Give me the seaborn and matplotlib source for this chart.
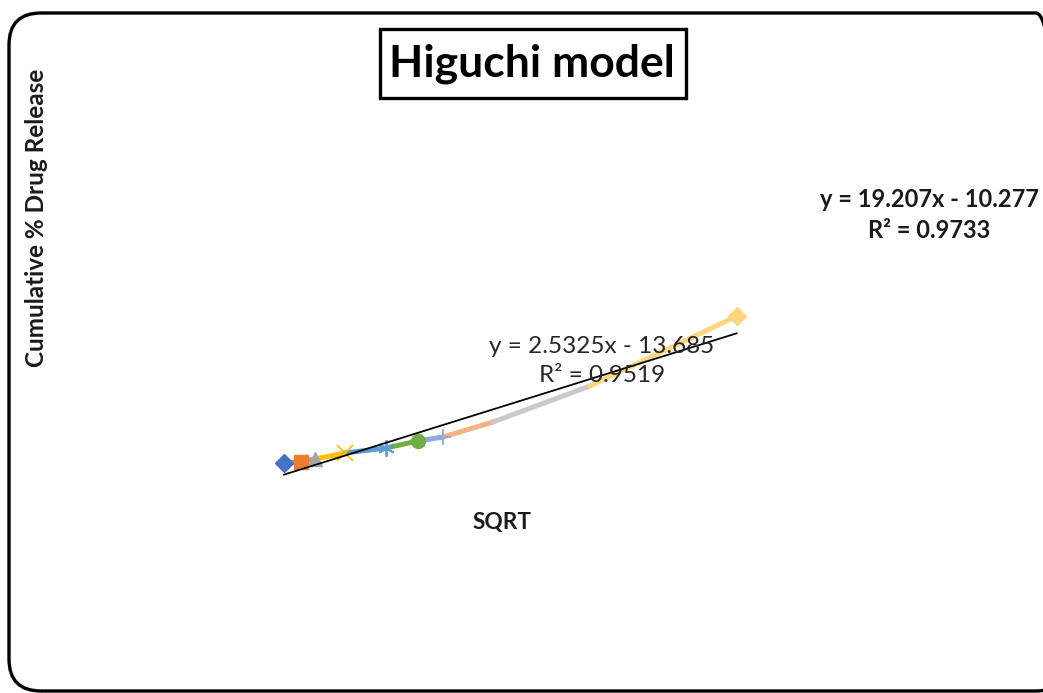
import numpy as np
import pandas as pd
import matplotlib
matplotlib.use("Agg")
import matplotlib.pyplot as plt
import seaborn as sns
from matplotlib.patches import FancyBboxPatch, Rectangle

# ---- data ----
sqrt_t = [3.81, 4.10, 4.34, 4.85, 5.55, 6.09, 6.52, 7.37, 9.02, 11.52]
release = [1.38, 1.69, 2.62, 4.46, 6.00, 8.15, 9.38, 14.00, 25.08, 46.60]
point_colors = ["#4472C4", "#ED7D31", "#A5A5A5", "#FFC000", "#5B9BD5",
                "#70AD47", "#8FAADC", "#F4B183", "#C9C9C9", "#FFD57F"]
point_markers = ["D", "s", "^", "x", "*", "o", "+", None, None, "D"]

title = "Higuchi model"
xlabel = "SQRT"
ylabel = "Cumulative % Drug Release"
eq1 = "y = 2.5325x - 13.685\nR² = 0.9519"
eq2 = "y = 19.207x - 10.277\nR² = 0.9733"

W, H = 1043, 693
sns.set_theme(style="white")
plt.rcParams["font.family"] = ["Lato", "DejaVu Sans"]

fig = plt.figure(figsize=(W / 100, H / 100), dpi=100)
fig.patch.set_facecolor("white")
ax = fig.add_axes([60 / W, (H - 500) / H, 940 / W, 390 / H])
ax.set_xlim(0, 16)
ax.set_ylim(-10, 110)
ax.axis("off")

df = pd.DataFrame({"x": sqrt_t, "y": release})

# coloured segments (each segment coloured by the point it ends at)
for i in range(1, len(df)):
    seg = df.iloc[i - 1:i + 1]
    sns.lineplot(data=seg, x="x", y="y", ax=ax, color=point_colors[i],
                 linewidth=3.6, sort=False, zorder=2, solid_capstyle="round")

# markers
for i, (xv, yv) in enumerate(zip(sqrt_t, release)):
    m = point_markers[i]
    if m is None:
        continue
    if m in ("x", "+", "*"):
        ax.plot([xv], [yv], marker=m if m != "*" else (6, 2, 0), color=point_colors[i],
                markersize=12, markeredgewidth=1.3, linestyle="none", zorder=3)
    else:
        ms = 9 if m == "D" else (10 if m == "o" else 9.5)
        ax.plot([xv], [yv], marker=m, color=point_colors[i], markersize=ms,
                markeredgecolor=point_colors[i], linestyle="none", zorder=3)

# linear trendline
k, b = np.polyfit(sqrt_t, release, 1)
tx = np.array([sqrt_t[0], sqrt_t[-1]])
trend = pd.DataFrame({"x": tx, "y": k * tx + b})
sns.lineplot(data=trend, x="x", y="y", ax=ax, color="black", linewidth=1.3, zorder=4)

# texts
fig.text(602 / W, 1 - 361 / H, eq1, ha="center", va="center", fontsize=17.5,
         color="#262626", linespacing=1.45, zorder=5)
fig.text(929 / W, 1 - 215 / H, eq2, ha="center", va="center", fontsize=17,
         fontweight="bold", color="#1a1a1a", linespacing=1.42)
fig.text(502 / W, 1 - 522 / H, xlabel, ha="center", va="center", fontsize=16.3,
         fontweight="bold", color="#1a1a1a")
fig.text(37 / W, 1 - 218 / H, ylabel, ha="center", va="center", fontsize=17.5,
         fontweight="bold", color="#1a1a1a", rotation=90)

# title with box
fig.text(532 / W, 1 - 64 / H, title, ha="center", va="center", fontsize=32,
         fontweight="bold", color="black")
fig.add_artist(Rectangle((380 / W, 1 - 98 / H), (686 - 380) / W, (98 - 29) / H,
                         transform=fig.transFigure, fill=False, edgecolor="black",
                         linewidth=2.4))

# outer rounded frame (figure fraction, aspect-corrected rounding)
left_px, right_px, top_px, bot_px, rad_px = 9, 1068, 13, 691, 32
fig.add_artist(FancyBboxPatch((left_px / W, 1 - bot_px / H),
                              (right_px - left_px) / W, (bot_px - top_px) / H,
                              boxstyle=f"round,pad=0,rounding_size={rad_px / W}",
                              mutation_aspect=W / H,
                              transform=fig.transFigure, fill=False,
                              edgecolor="black", linewidth=2.4))

fig.savefig("out.png", dpi=100, facecolor="white")
